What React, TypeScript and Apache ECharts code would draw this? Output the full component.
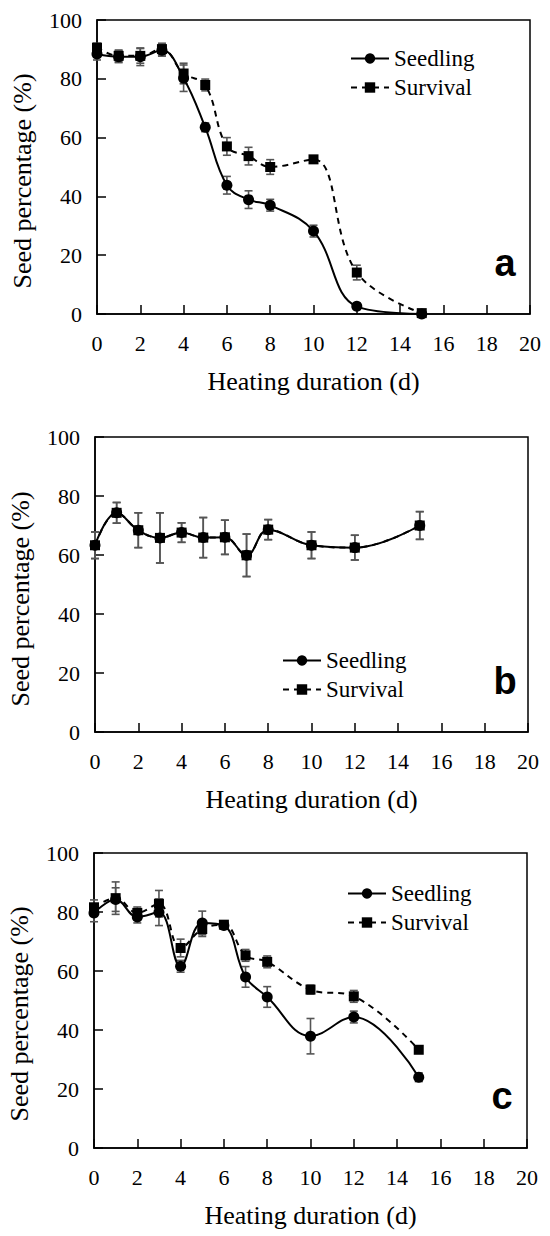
import React, { useEffect, useRef } from "react";
import * as echarts from "echarts";

const days = [0, 1, 2, 3, 4, 5, 6, 7, 8, 10, 12, 15];
const xTicks = [0, 2, 4, 6, 8, 10, 12, 14, 16, 18, 20];
const yTicks = [0, 20, 40, 60, 80, 100];
const seriesNames = ["Seedling", "Survival"];
const panelLetters = ["a", "b", "c"];

// Panel a
const seedlingA = [88.4, 87.5, 87.5, 89.7, 80.2, 63.5, 43.8, 38.9, 37.0, 28.2, 2.6, 0];
const seedlingAErr = [2, 2, 3, 2, 4.5, 1.5, 3, 3, 2, 2, 1, 0];
const survivalA = [90.6, 87.8, 87.8, 90.1, 81.8, 77.9, 57.0, 53.7, 50.0, 52.6, 14.1, 0.3];
const survivalAErr = [1.5, 2, 2.5, 2, 3.5, 2, 3, 3, 2.5, 1.2, 2.5, 0.5];

// Panel b
const seedlingB = [63.3, 74.3, 68.4, 65.8, 67.6, 65.9, 66.0, 59.9, 68.6, 63.3, 62.5, 70.0];
const seedlingBErr = [4.5, 3.5, 5.9, 8.5, 3.3, 6.8, 5.8, 7.2, 3.4, 4.5, 4.2, 4.7];
const survivalB = [63.3, 74.3, 68.4, 65.8, 67.6, 65.9, 66.0, 59.9, 68.6, 63.3, 62.5, 70.0];
const survivalBErr = [4.5, 3.5, 5.9, 8.5, 3.3, 6.8, 5.8, 7.2, 3.4, 4.5, 4.2, 4.7];

// Panel c
const seedlingC = [79.7, 84.2, 78.3, 79.9, 61.6, 76.3, 75.4, 58.0, 51.2, 37.9, 44.4, 24.0];
const seedlingCErr = [3, 4, 2, 4.5, 2, 4, 1, 3.5, 3.5, 6, 2, 1.5];
const survivalC = [81.6, 84.7, 79.7, 82.8, 67.8, 74.2, 75.7, 65.3, 63.1, 53.7, 51.4, 33.3];
const survivalCErr = [2.5, 5.5, 2, 4.5, 3, 2.5, 1, 2, 2, 1.5, 2, 1];

const panels = [
  { seed: seedlingA, seedErr: seedlingAErr, surv: survivalA, survErr: survivalAErr },
  { seed: seedlingB, seedErr: seedlingBErr, surv: survivalB, survErr: survivalBErr },
  { seed: seedlingC, seedErr: seedlingCErr, surv: survivalC, survErr: survivalCErr },
];

const SERIF = "Liberation Serif";
const SANS = "Liberation Sans";

const grids = [
  { left: 97, top: 20, width: 433, height: 294 },
  { left: 95, top: 437, width: 433, height: 295 },
  { left: 94, top: 853, width: 433, height: 295 },
];
const legendPos = [
  { left: 345, top: 42 },
  { left: 277, top: 644 },
  { left: 342, top: 877 },
];
const yTitlePos = [
  { x: 22, y: 181 },
  { x: 20, y: 599 },
  { x: 19, y: 1014 },
];
const letterPos = [
  { x: 505, y: 263 },
  { x: 505, y: 681 },
  { x: 502, y: 1096 },
];

function errorBarSeries(name: string, vals: number[], errs: number[], idx: number) {
  return {
    type: "custom",
    name: name + " err",
    xAxisIndex: idx,
    yAxisIndex: idx,
    z: 1,
    silent: true,
    data: days.map((d, i) => [d, vals[i], errs[i]]),
    encode: { x: 0, y: 1 },
    renderItem: (params: any, api: any) => {
      const x = api.value(0);
      const y = api.value(1);
      const e = api.value(2);
      if (!e) return null;
      const top = api.coord([x, y + e]);
      const bot = api.coord([x, y - e]);
      const w = 4;
      const st = { stroke: "#555", lineWidth: 1.6 };
      return {
        type: "group",
        children: [
          { type: "line", shape: { x1: top[0], y1: top[1], x2: bot[0], y2: bot[1] }, style: st },
          { type: "line", shape: { x1: top[0] - w, y1: top[1], x2: top[0] + w, y2: top[1] }, style: st },
          { type: "line", shape: { x1: bot[0] - w, y1: bot[1], x2: bot[0] + w, y2: bot[1] }, style: st },
        ],
      };
    },
  };
}

export default function App() {
  const ref = useRef<HTMLDivElement>(null);
  useEffect(() => {
    if (!ref.current) return;
    const chart = echarts.init(ref.current, undefined, { renderer: "svg" });
    const axisLineStyle = { color: "#000", width: 1.5 };
    const series: any[] = [];
    panels.forEach((p, idx) => {
      series.push(errorBarSeries(seriesNames[0], p.seed, p.seedErr, idx));
      series.push(errorBarSeries(seriesNames[1], p.surv, p.survErr, idx));
      series.push({
        type: "line",
        name: seriesNames[0],
        xAxisIndex: idx,
        yAxisIndex: idx,
        z: 3,
        smooth: 0.4,
        symbol: "circle",
        symbolSize: 11,
        data: days.map((d, i) => [d, p.seed[i]]),
        lineStyle: { color: "#000", width: 2, type: "solid" },
        itemStyle: { color: "#000" },
      });
      series.push({
        type: "line",
        name: seriesNames[1],
        xAxisIndex: idx,
        yAxisIndex: idx,
        z: 4,
        smooth: 0.4,
        symbol: "rect",
        symbolSize: 10,
        data: days.map((d, i) => [d, p.surv[i]]),
        lineStyle: { color: "#000", width: 2, type: [6, 5] },
        itemStyle: { color: "#000" },
      });
    });

    const graphics: any[] = [];
    panels.forEach((_, idx) => {
      graphics.push({
        type: "text",
        x: yTitlePos[idx].x,
        y: yTitlePos[idx].y,
        rotation: Math.PI / 2,
        style: {
          text: "Seed percentage (%)",
          fontSize: 26,
          fontFamily: SERIF,
          fill: "#000",
          align: "center",
          verticalAlign: "middle",
        },
      });
      graphics.push({
        type: "text",
        x: letterPos[idx].x,
        y: letterPos[idx].y,
        style: {
          text: panelLetters[idx],
          fontSize: 38,
          fontWeight: "bold",
          fontFamily: SANS,
          fill: "#000",
          align: "center",
          verticalAlign: "middle",
        },
      });
    });

    chart.setOption({
      animation: false,
      backgroundColor: "#fff",
      textStyle: { fontFamily: SERIF },
      grid: grids.map((g) => ({
        ...g,
        show: true,
        borderColor: "#000",
        borderWidth: 1.5,
        backgroundColor: "transparent",
        containLabel: false,
      })),
      xAxis: grids.map((_, idx) => ({
        type: "value",
        gridIndex: idx,
        min: xTicks[0],
        max: xTicks[xTicks.length - 1],
        interval: 2,
        axisLine: { show: true, onZero: false, lineStyle: axisLineStyle },
        axisTick: { show: true, inside: true, length: 9, lineStyle: axisLineStyle },
        splitLine: { show: false },
        axisLabel: { margin: 18, fontSize: 22, color: "#000", fontFamily: SERIF },
        name: "Heating duration (d)",
        nameLocation: "middle",
        nameGap: 54,
        nameTextStyle: { fontSize: 26, color: "#000", fontFamily: SERIF },
      })),
      yAxis: grids.map((_, idx) => ({
        type: "value",
        gridIndex: idx,
        min: yTicks[0],
        max: yTicks[yTicks.length - 1],
        interval: 20,
        axisLine: { show: true, onZero: false, lineStyle: axisLineStyle },
        axisTick: { show: true, inside: true, length: 9, lineStyle: axisLineStyle },
        splitLine: { show: false },
        axisLabel: { margin: 15, fontSize: 22, color: "#000", fontFamily: SERIF },
      })),
      legend: legendPos.map((lp) => ({
        orient: "vertical",
        left: lp.left,
        top: lp.top,
        itemWidth: 38,
        itemHeight: 13,
        itemGap: 6,
        selectedMode: false,
        data: seriesNames,
        textStyle: { fontSize: 23, color: "#000", fontFamily: SERIF },
      })),
      graphic: graphics,
      series,
    });
    return () => chart.dispose();
  }, []);
  return (
    <div
      ref={ref}
      style={{ position: "absolute", left: 0, top: 0, width: 550, height: 1236 }}
    />
  );
}
